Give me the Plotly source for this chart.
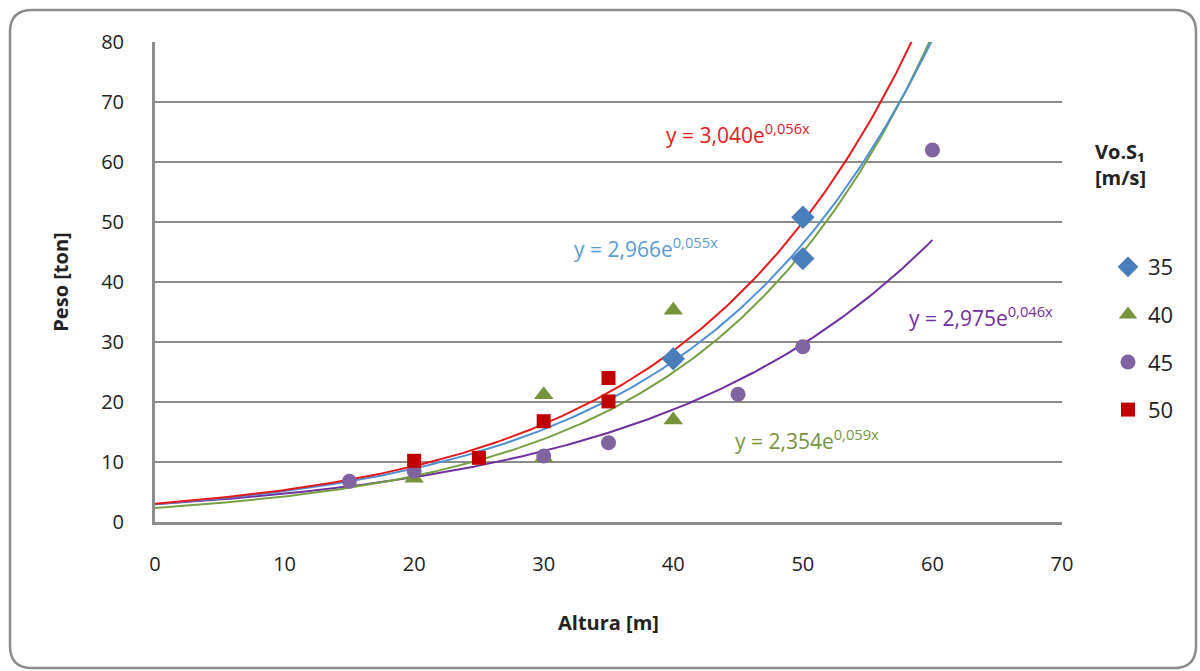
import numpy as np
import plotly.graph_objects as go

# Measured points per outlet velocity (Altura [m], Peso [ton])
x_35 = [40, 50, 50]
y_35 = [27.2, 50.8, 43.9]

x_40 = [20, 30, 30, 40, 40]
y_40 = [7.3, 21.2, 10.7, 35.3, 17.0]

x_45 = [15, 20, 30, 35, 45, 50, 60]
y_45 = [6.8, 8.5, 11.0, 13.2, 21.3, 29.2, 62.0]

x_50 = [20, 25, 30, 35, 35]
y_50 = [10.2, 10.7, 16.8, 24.0, 20.1]

# Exponential fits y = a * e^(b x)
fit_a = {"35": 2.966, "40": 2.354, "45": 2.975, "50": 3.040}
fit_b = {"35": 0.055, "40": 0.059, "45": 0.046, "50": 0.056}

x_ticks = [0, 10, 20, 30, 40, 50, 60, 70]
y_ticks = [0, 10, 20, 30, 40, 50, 60, 70, 80]

FONT = "Open Sans"
W, H = 1200, 671
L, R, T, B = 155, 1062, 42, 522

fig = go.Figure()

xs = np.linspace(0, 60, 301)
line_col = {"35": "#4f8fd6", "40": "#77a043", "45": "#7030a0", "50": "#e3191c"}
for key in ["45", "40", "35", "50"]:
    fig.add_trace(go.Scatter(
        x=xs, y=fit_a[key] * np.exp(fit_b[key] * xs), mode="lines",
        line=dict(color=line_col[key], width=2), showlegend=False, hoverinfo="skip"))

series = [
    ("35", x_35, y_35, "diamond", "#4a7ebb", 18),
    ("40", x_40, y_40, "triangle-up", "#77933c", 17),
    ("45", x_45, y_45, "circle", "#8064a2", 15),
    ("50", x_50, y_50, "square", "#c00000", 14),
]
for i, (name, xv, yv, sym, col, sz) in enumerate(series):
    fig.add_trace(go.Scatter(
        x=xv, y=yv, mode="markers", name=name, legendgroup=name, legendrank=i,
        marker=dict(symbol=sym, color=col, size=sz, line=dict(width=0))))

eq_labels = [
    ("50", 39.3, 64.8, "#e02020"),
    ("35", 32.2, 45.7, "#5b9bd5"),
    ("45", 58.0, 34.3, "#7030a0"),
    ("40", 44.6, 13.7, "#77933c"),
]
for key, ex, ey, col in eq_labels:
    a = f"{fit_a[key]:.3f}".replace(".", ",")
    b = f"{fit_b[key]:.3f}".replace(".", ",")
    fig.add_annotation(x=ex, y=ey, xref="x", yref="y", xanchor="left", yanchor="middle",
                       text=f"y = {a}e<sup>{b}x</sup>", showarrow=False,
                       font=dict(family=FONT, size=21, color=col))

pw, ph = R - L, B - T


def px(xp):
    return (xp - L) / pw


def py(yp):
    return (B - yp) / ph


# Rounded outer frame
x0, x1, y0, y1, r = 10, 1196, 10, 668, 22
path = (f"M {px(x0 + r)} {py(y0)} L {px(x1 - r)} {py(y0)} "
        f"Q {px(x1)} {py(y0)} {px(x1)} {py(y0 + r)} L {px(x1)} {py(y1 - r)} "
        f"Q {px(x1)} {py(y1)} {px(x1 - r)} {py(y1)} L {px(x0 + r)} {py(y1)} "
        f"Q {px(x0)} {py(y1)} {px(x0)} {py(y1 - r)} L {px(x0)} {py(y0 + r)} "
        f"Q {px(x0)} {py(y0)} {px(x0 + r)} {py(y0)} Z")
fig.add_shape(type="path", xref="paper", yref="paper", path=path,
              line=dict(color="#8c8c8c", width=2.5), layer="below")

# Legend heading
fig.add_annotation(xref="paper", yref="paper", x=px(1120), y=py(164), xanchor="center",
                   yanchor="middle", text="<b>Vo.S₁<br>[m/s]</b>", showarrow=False,
                   align="left", font=dict(family=FONT, size=20, color="#222222"))

fig.update_layout(
    width=W, height=H,
    margin=dict(l=L, r=W - R, t=T, b=H - B, pad=0),
    paper_bgcolor="white", plot_bgcolor="white",
    font=dict(family=FONT, color="#222222"),
    showlegend=True,
    legend=dict(x=px(1108), y=py(246), xanchor="left", yanchor="top",
                font=dict(family=FONT, size=22, color="#222222"),
                tracegroupgap=16, itemwidth=30, bgcolor="rgba(0,0,0,0)"),
    xaxis=dict(range=[0, 70], tickvals=x_ticks, showgrid=False, zeroline=False,
               showline=True, linecolor="#8c8c8c", linewidth=3,
               ticks="", ticklabelstandoff=22, tickfont=dict(size=20, color="#222222"),
               title=dict(text="<b>Altura [m]</b>", font=dict(size=20, color="#222222"),
                          standoff=40)),
    yaxis=dict(range=[0, 80], tickvals=y_ticks, showgrid=True, gridcolor="#8c8c8c",
               gridwidth=2, zeroline=False, showline=True, linecolor="#8c8c8c",
               linewidth=3, ticks="", ticklabelstandoff=24,
               tickfont=dict(size=20, color="#222222"),
               title=dict(text="<b>Peso [ton]</b>", font=dict(size=20, color="#222222"),
                          standoff=28)),
)

fig.write_html("out.html")
